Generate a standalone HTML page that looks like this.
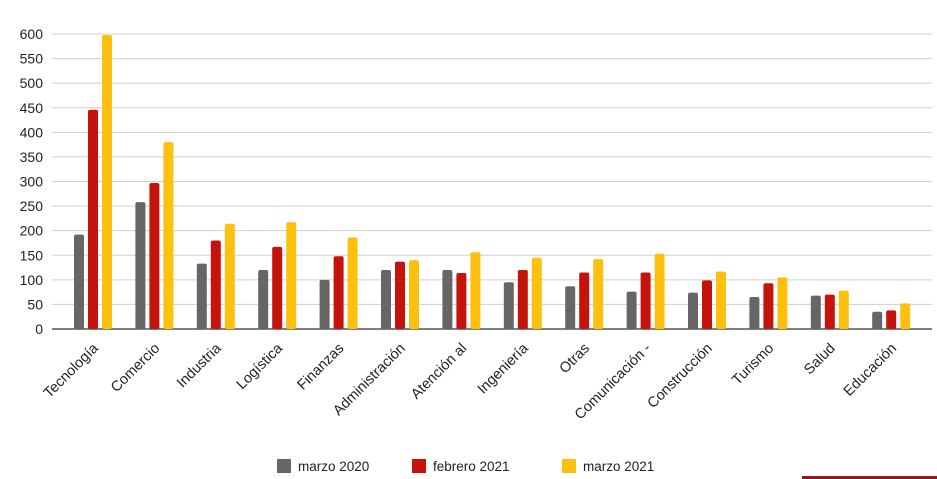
<!DOCTYPE html>
<html><head><meta charset="utf-8"><style>
html,body{margin:0;padding:0;background:#fff;}
svg{display:block;font-family:"Liberation Sans",Arial,sans-serif;}
</style></head><body>
<svg width="937" height="479" viewBox="0 0 937 479" xmlns="http://www.w3.org/2000/svg">
<g id="grid"></g>
<g id="bars"></g>
<g id="labels" font-size="14.5" fill="#222"></g>
<g font-size="13.5" fill="#222">
<rect x="277" y="459" width="14" height="14" fill="#666"/><text x="298" y="471">marzo 2020</text>
<rect x="412" y="459" width="14" height="14" fill="#c4140c"/><text x="433" y="471">febrero 2021</text>
<rect x="562" y="459" width="14" height="14" fill="#fdc00f"/><text x="583" y="471">marzo 2021</text>
</g>
<rect x="802" y="476" width="135" height="3" fill="#8b1a1a"/>
</svg>
<script>
var ns="http://www.w3.org/2000/svg";
function el(t,a,p,txt){var e=document.createElementNS(ns,t);for(var k in a)e.setAttribute(k,a[k]);if(txt)e.textContent=txt;document.getElementById(p).appendChild(e);}
var y0=329,k=295/600;
for(var v=0;v<=600;v+=50){var y=y0-v*k;
el('line',{x1:52,x2:932,y1:y,y2:y,stroke:v?'#d0d0d0':'#555','stroke-width':v?1:1.5},'grid');
el('text',{x:43,y:y+5,'text-anchor':'end','font-size':14,fill:'#222'},'grid',String(v));}
var d=[["Tecnología",192,446,598],["Comercio",258,297,380],["Industria",133,180,214],["Logística",120,167,217],["Finanzas",100,148,186],["Administración",120,137,140],["Atención al",120,114,156],["Ingeniería",95,120,145],["Otras",87,115,142],["Comunicación -",76,115,153],["Construcción",74,99,117],["Turismo",65,93,105],["Salud",68,70,78],["Educación",35,38,52]];
var cols=['#666666','#c4140c','#fdc00f'];
d.forEach(function(r,i){var x=74+i*61.4;
for(var j=0;j<3;j++){var h=r[j+1]*k;el('rect',{x:x+j*14,y:y0-h,width:10,height:h,rx:2,fill:cols[j]},'bars');}
var cx=x+21;var lx=cx+4,ly=349;
el('text',{x:lx,y:ly,'text-anchor':'end',transform:'rotate(-45 '+lx+' '+ly+')'},'labels',r[0]);
});
</script>
</body></html>
